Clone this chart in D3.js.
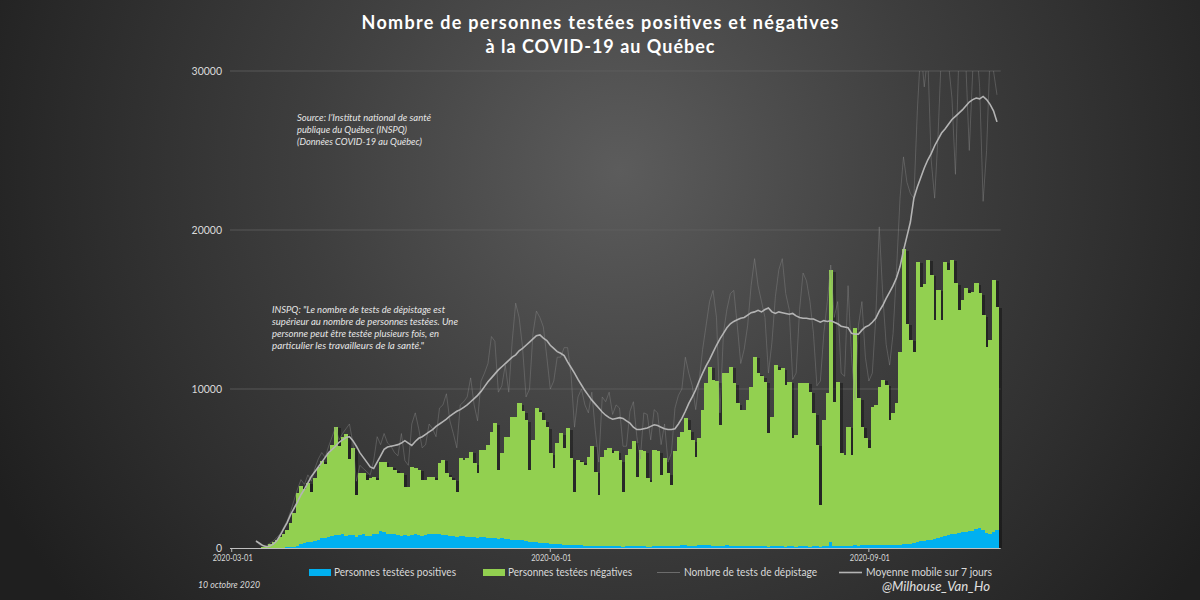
<!DOCTYPE html>
<html><head><meta charset="utf-8">
<script src="https://cdn.jsdelivr.net/npm/d3@7"></script>
<style>html,body{margin:0;padding:0;background:#262626;}svg{display:block;}</style>
</head><body>
<svg id="chart" width="1200" height="600"></svg>
<script>
// ---------- DATA ----------
const startDate = "2020-03-01";
const endDate = "2020-10-08";

const titleLines = ["Nombre de personnes testées positives et négatives", "à la COVID-19 au Québec"];
const sourceLines = ["Source: l’Institut national de santé", "publique du Québec (INSPQ)", "(Données COVID-19 au Québec)"];
const noteLines = ["INSPQ: \"Le nombre de tests de dépistage est", "supérieur au nombre de personnes testées. Une", "personne peut être testée plusieurs fois, en", "particulier les travailleurs de la santé.\""];
const seriesNames = ["Personnes testées positives", "Personnes testées négatives", "Nombre de tests de dépistage", "Moyenne mobile sur 7 jours"];
const yTicks = [0, 10000, 20000, 30000];
const xTickLabels = ["2020-03-01", "2020-06-01", "2020-09-01"];
const dateNote = "10 octobre 2020";
const signature = "@Milhouse_Van_Ho";

const positives = [
0,0,0,0,0,0,0,0,
2,3,5,10,12,15,20,25,35,50,80,120,
250,300,350,400,450,520,600,650,700,750,800,820,850,780,820,800,700,
820,900,780,750,850,900,1050,1000,850,880,850,800,780,820,780,820,850,800,780,800,850,900,870,
850,830,800,780,760,700,780,750,720,700,690,650,700,680,650,620,600,
560,600,580,550,530,520,500,480,450,400,380,360,340,320,300,280,250,240,230,220,210,200,180,170,160,150,140,130,125,110,115,110,100,100,
110,120,90,100,110,130,100,110,120,90,85,110,120,100,110,
120,100,130,150,160,170,150,140,130,160,170,180,160,150,140,130,150,160,140,130,120,110,120,130,110,
100,110,120,100,90,95,110,120,100,90,100,95,85,100,110,100,90,95,100,80,110,100,
400,
100,110,120,130,140,150,160,150,160,170,180,170,180,190,200,180,190,200,210,220,230,
250,280,320,380,420,450,480,520,560,620,700,750,800,850,900,950,1000,1000,1050,1100,1200,1250,1150,950,900,1000,1120
];

const negatives = [
0,0,0,0,0,0,0,0,
28,77,145,240,338,485,680,825,1095,1500,2120,3320,
3650,3400,3750,3100,3950,4580,4900,4650,5260,5750,6830,5580,6150,6420,4780,5500,2630,
3870,3790,3500,3650,3640,3380,4380,4430,4270,4240,4060,3890,3910,3040,3080,4300,4160,4110,3500,3480,3640,3590,3410,
4480,4710,3890,3710,3520,2840,4860,4790,4920,5360,4640,4050,5460,5480,5850,6700,7240,
4350,5350,6420,6450,7730,7740,8600,8120,7600,4510,6410,8430,8240,7730,7300,5670,4760,6340,6980,6050,7320,5440,3360,5370,5270,5050,5610,6310,4675,3220,5635,6050,6170,5850,
5980,5410,3450,5740,6090,6570,4390,6050,5980,4300,4095,6050,5980,4500,5530,
4580,3860,5960,6850,7160,7980,7270,6650,5610,6740,8510,10180,11240,10420,10360,7610,10840,10830,11260,10230,8980,8570,8580,9170,10040,
11930,10890,10680,10360,7120,8165,11390,11080,11200,10170,10370,6805,7015,10260,10290,10300,9750,8375,6380,2620,7940,9630,
17080,
9100,10360,5840,5730,7490,5710,13660,9270,7470,6720,6080,8720,8820,9960,10370,10080,7860,8270,8890,12130,18570,
13850,12820,11980,17620,16020,16150,17635,16680,13780,15610,13640,17250,16680,17265,15750,14020,14600,15330,14970,15020,15450,14770,13500,11710,12180,15860,14060
];

const tests = [
null,null,null,null,null,null,null,
450,200,120,150,300,450,650,900,1300,1700,2300,3000,3700,4300,4000,4600,4200,5000,5600,6000,5700,6400,7000,7600,6800,7200,7500,7800,6600,4200,
5200,5000,4800,4600,5500,7000,6500,7200,6600,6400,6000,5800,7200,5500,5200,7800,8500,7500,6300,6500,7800,7500,7000,8800,9000,9700,8000,7200,6300,9000,9200,9500,10700,9000,8000,10500,11000,11600,13300,13000,
9800,10200,11500,9800,13000,15400,14500,12600,9500,10000,13500,14900,14500,13900,12000,10000,10500,12000,12000,12600,12600,10900,7600,9500,10000,9000,8500,9800,7400,5400,9500,9200,9800,8400,
9000,8800,6400,6400,8600,9200,7000,5600,8500,8400,6800,8700,8500,6500,7800,5400,6000,8800,9600,10000,12000,11000,10200,8700,10500,12500,14000,15500,16200,14500,8500,13500,15000,16000,16200,14000,11600,12500,14000,16500,
18200,16500,15500,14500,11000,12900,15800,17500,18200,16000,15000,10600,11000,15000,17300,16800,15500,13500,10200,10500,13500,15500,17800,14500,15500,11000,10800,16500,12000,9300,14000,15500,12000,10500,
11000,14500,20200,16000,12800,11500,13500,17500,22000,24600,23000,22300,22000,27500,31500,29000,31000,24400,22000,26000,31500,32000,30500,28300,23500,31000,32000,30500,25000,30000,32000,29000,21800,25000,31000,30000,28500
];

const movingAvg = [
null,null,null,null,null,null,null,
440,300,150,80,120,250,450,800,1200,1600,2100,2500,2900,3350,3700,4100,4500,4800,5100,5400,5700,6000,6200,6400,6650,6800,6950,7000,6750,6400,
6000,5700,5400,5100,5000,5400,5800,6200,6350,6400,6450,6500,6600,6750,6600,6450,6700,6900,7000,7150,7300,7450,7650,7800,7950,8100,8300,8450,8600,8700,8850,9000,9200,9400,9600,9850,10150,10450,10700,10950,
11200,11400,11600,11800,12000,12150,12400,12550,12750,12950,13150,13350,13400,13200,13050,12750,12550,12350,12250,12100,11700,11350,11000,10600,10250,9900,9600,9300,9050,8800,8550,8350,8200,8100,
8150,8200,8150,8000,7850,7600,7450,7450,7500,7550,7650,7750,7700,7600,7500,7450,7450,7500,7800,8150,8600,9100,9500,9950,10500,11000,11450,11850,12300,12750,13150,13500,13850,14100,14250,14350,14450,14500,14650,14800,
14850,14950,14850,15000,15100,14850,14750,14850,14800,14750,14700,14750,14600,14500,14450,14450,14400,14400,14300,14200,14300,14250,14300,14200,14100,13950,13900,13850,13500,13450,13450,13700,13900,14000,
14200,14450,14900,15250,15700,16100,16500,17000,17700,18700,19600,20500,22000,22700,23300,23900,24400,24800,25300,25700,26100,26350,26650,26950,27150,27350,27550,27800,28050,28200,28300,28250,28400,28200,27900,27500,26800
];

// ---------- CHART ----------
const parse = d3.timeParse("%Y-%m-%d");
const dates = d3.timeDay.range(parse(startDate), d3.timeDay.offset(parse(endDate), 1));
const rows = dates.map((d, i) => ({date: d, pos: positives[i], neg: negatives[i], tests: tests[i], ma: movingAvg[i]}));

const svg = d3.select("#chart");
const defs = svg.append("defs");
const grad = defs.append("radialGradient").attr("id", "bg")
  .attr("gradientUnits", "userSpaceOnUse").attr("cx", 620).attr("cy", 170).attr("r", 700);
grad.append("stop").attr("offset", 0).attr("stop-color", "#5c5c5c");
grad.append("stop").attr("offset", 0.45).attr("stop-color", "#3e3e3e");
grad.append("stop").attr("offset", 1).attr("stop-color", "#1f1f1f");
svg.append("rect").attr("width", 1200).attr("height", 600).attr("fill", "url(#bg)");

const plot = {left: 230, right: 998.7, top: 71, bottom: 548};
const x = d3.scaleBand().domain(dates).range([plot.left, plot.right]).padding(0);
const y = d3.scaleLinear().domain([0, 30000]).range([plot.bottom, plot.top]);
const bw = x.bandwidth();
const xc = d => x(d) + bw / 2;

defs.append("clipPath").attr("id", "plotclip").append("rect")
  .attr("x", plot.left).attr("y", plot.top).attr("width", plot.right - plot.left + 4).attr("height", plot.bottom - plot.top);

// gridlines
svg.append("g").selectAll("line").data(yTicks.filter(t => t > 0)).join("line")
  .attr("x1", plot.left).attr("x2", plot.right + 2)
  .attr("y1", d => y(d)).attr("y2", d => y(d))
  .attr("stroke", "#5f5f5f").attr("stroke-width", 0.8);

// y labels
svg.append("g").selectAll("text").data(yTicks).join("text")
  .attr("x", 222).attr("y", d => y(d) + 3.5).attr("text-anchor", "end")
  .attr("fill", "#d9d9d9").attr("font-family", "Lato, sans-serif").attr("font-size", 10.5)
  .text(d => d);

// shadows of stacked bars
const bars = svg.append("g").attr("shape-rendering", "crispEdges");
bars.append("g").selectAll("rect").data(rows.filter(r => r.pos + r.neg > 0)).join("rect")
  .attr("x", d => x(d.date) + bw).attr("y", d => y(d.pos + d.neg) + 1.5)
  .attr("width", bw).attr("height", d => Math.max(0, plot.bottom - y(d.pos + d.neg) - 1.5))
  .attr("fill", "#000").attr("opacity", 0.35);
// stacked bars, drawn day by day so each column covers the previous shadow
const col = bars.append("g").selectAll("g").data(rows).join("g");
col.append("rect")
  .attr("x", d => x(d.date)).attr("y", d => y(d.pos + d.neg))
  .attr("width", bw + 0.7).attr("height", d => y(d.pos) - y(d.pos + d.neg))
  .attr("fill", "#92d050");
col.append("rect")
  .attr("x", d => x(d.date)).attr("y", d => y(d.pos))
  .attr("width", bw + 0.7).attr("height", d => plot.bottom - y(d.pos))
  .attr("fill", "#00b0f0");

// x axis
svg.append("line").attr("x1", plot.left).attr("x2", plot.right + 2)
  .attr("y1", plot.bottom + 0.5).attr("y2", plot.bottom + 0.5)
  .attr("stroke", "#bfbfbf").attr("stroke-width", 1);
const xt = svg.append("g");
xTickLabels.forEach(s => {
  const px = xc(parse(s));
  xt.append("line").attr("x1", px).attr("x2", px).attr("y1", plot.bottom).attr("y2", plot.bottom + 4)
    .attr("stroke", "#bfbfbf").attr("stroke-width", 1);
  xt.append("text").attr("x", px + 1).attr("y", 561).attr("text-anchor", "middle")
    .attr("fill", "#d9d9d9").attr("font-family", "Lato, sans-serif").attr("font-size", 8.5)
    .attr("textLength", 40).attr("lengthAdjust", "spacingAndGlyphs").text(s);
});

// lines
const lineGen = key => d3.line().defined(d => d[key] != null).x(d => xc(d.date)).y(d => y(d[key]));
const lg = svg.append("g").attr("clip-path", "url(#plotclip)");
lg.append("path").datum(rows).attr("d", lineGen("tests"))
  .attr("fill", "none").attr("stroke", "#8c8c8c").attr("stroke-width", 0.8).attr("opacity", 0.5);
lg.append("path").datum(rows).attr("d", lineGen("ma"))
  .attr("fill", "none").attr("stroke", "#b4b4b4").attr("stroke-width", 1.6);

// title
const tw = [477, 229];
svg.append("g").selectAll("text").data(titleLines).join("text")
  .attr("x", 600).attr("y", (d, i) => 29 + i * 24).attr("text-anchor", "middle")
  .attr("fill", "#ffffff").attr("font-family", "Lato, sans-serif").attr("font-weight", "bold").attr("font-size", 18)
  .attr("textLength", (d, i) => tw[i]).attr("lengthAdjust", "spacing")
  .text(d => d);

// annotations
const sw = [134, 110, 125];
svg.append("g").selectAll("text").data(sourceLines).join("text")
  .attr("x", 297).attr("y", (d, i) => 121 + i * 12)
  .attr("fill", "#e6e6e6").attr("font-family", "Lato, sans-serif").attr("font-style", "italic").attr("font-size", 10)
  .attr("textLength", (d, i) => sw[i]).attr("lengthAdjust", "spacingAndGlyphs").text(d => d);
const nw = [173, 186, 167, 152];
svg.append("g").selectAll("text").data(noteLines).join("text")
  .attr("x", 272).attr("y", (d, i) => 313 + i * 12)
  .attr("fill", "#e6e6e6").attr("font-family", "Lato, sans-serif").attr("font-style", "italic").attr("font-size", 10)
  .attr("textLength", (d, i) => nw[i]).attr("lengthAdjust", "spacingAndGlyphs").text(d => d);

// legend
const leg = svg.append("g").attr("font-family", "Lato, sans-serif").attr("font-size", 10.5).attr("fill", "#d9d9d9");
const legItems = [
  {x: 309, tx: 334, w: 122, type: "rect", color: "#00b0f0"},
  {x: 483, tx: 508, w: 124, type: "rect", color: "#92d050"},
  {x: 657, tx: 684, w: 133, type: "thin", color: "#7a7a7a"},
  {x: 839, tx: 866, w: 126, type: "ma", color: "#b4b4b4"}
];
legItems.forEach((it, i) => {
  if (it.type === "rect") {
    leg.append("rect").attr("x", it.x).attr("y", 569).attr("width", 22).attr("height", 7).attr("fill", it.color);
  } else {
    leg.append("line").attr("x1", it.x).attr("x2", it.x + 23).attr("y1", 572.5).attr("y2", 572.5)
      .attr("stroke", it.color).attr("stroke-width", it.type === "ma" ? 1.6 : 0.8);
  }
  leg.append("text").attr("x", it.tx).attr("y", 576).attr("textLength", it.w).attr("lengthAdjust", "spacingAndGlyphs")
    .text(seriesNames[i]);
});

svg.append("text").attr("x", 198).attr("y", 588).attr("fill", "#d9d9d9")
  .attr("font-family", "Lato, sans-serif").attr("font-style", "italic").attr("font-size", 10)
  .attr("textLength", 62).attr("lengthAdjust", "spacingAndGlyphs").text(dateNote);
svg.append("text").attr("x", 990).attr("y", 591).attr("text-anchor", "end").attr("fill", "#e0e0e0")
  .attr("font-family", "Lato, sans-serif").attr("font-style", "italic").attr("font-size", 13)
  .attr("textLength", 108).attr("lengthAdjust", "spacingAndGlyphs").text(signature);
</script>
</body></html>
